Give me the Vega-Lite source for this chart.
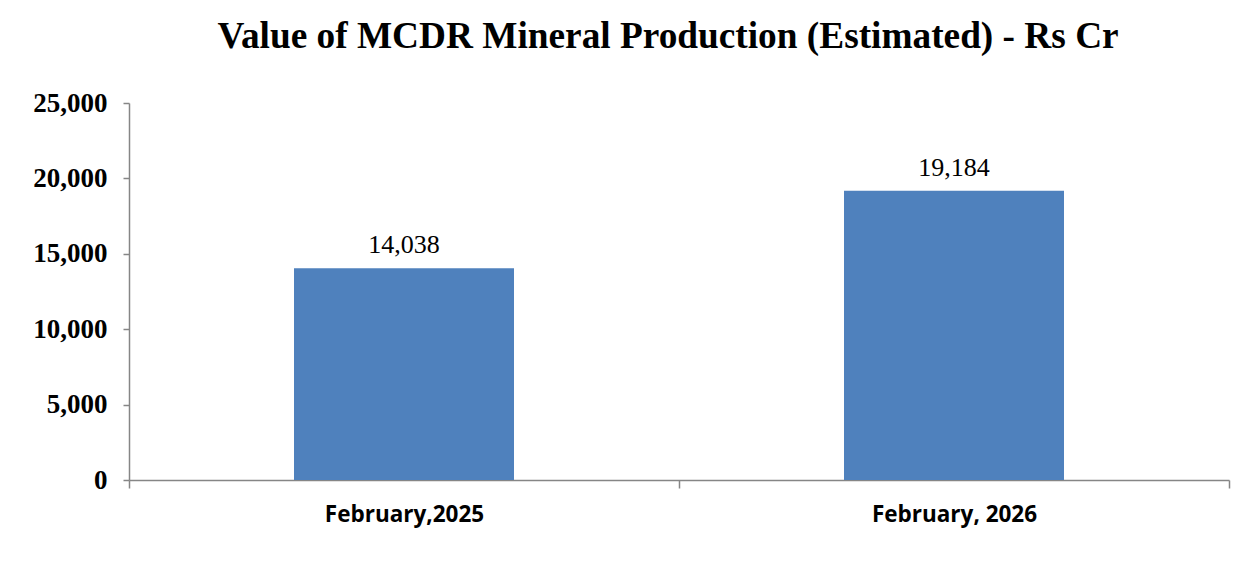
{
  "$schema": "https://vega.github.io/schema/vega-lite/v6.json",
  "width": 1100,
  "height": 377,
  "autosize": "none",
  "padding": {"left": 129, "top": 103, "right": 19, "bottom": 95},
  "background": "white",
  "title": {
    "text": "Value of MCDR Mineral Production (Estimated) - Rs Cr",
    "font": "Liberation Serif",
    "fontSize": 37.3,
    "fontWeight": "bold",
    "color": "black",
    "anchor": "middle",
    "dx": -11,
    "offset": 33
  },
  "data": {
    "values": [
      {"period": "February,2025", "value": 14038},
      {"period": "February, 2026", "value": 19184}
    ]
  },
  "encoding": {
    "x": {
      "field": "period",
      "type": "nominal",
      "sort": null,
      "title": null,
      "scale": {"paddingInner": 0, "paddingOuter": 0},
      "axis": {
        "labelAngle": 0,
        "labelFont": "Open Sans",
        "labelFontSize": 22.5,
        "labelFontWeight": "bold",
        "labelColor": "black",
        "labelPadding": 15,
        "domainColor": "#868686",
        "tickColor": "#868686",
        "tickSize": 8,
        "tickBand": "extent",
        "domainWidth": 1.5,
        "tickWidth": 1.5
      }
    },
    "y": {
      "field": "value",
      "type": "quantitative",
      "title": null,
      "scale": {"domain": [0, 25000]},
      "axis": {
        "values": [0, 5000, 10000, 15000, 20000, 25000],
        "format": ",.0f",
        "grid": false,
        "labelFont": "Liberation Serif",
        "labelFontSize": 27,
        "labelFontWeight": "bold",
        "labelColor": "black",
        "labelPadding": 16,
        "domainColor": "#868686",
        "tickColor": "#868686",
        "tickSize": 6,
        "domainWidth": 1.5,
        "tickWidth": 1.5
      }
    }
  },
  "layer": [
    {"mark": {"type": "bar", "color": "#4F81BD", "width": {"band": 0.4}}},
    {
      "mark": {"type": "text", "baseline": "alphabetic", "dy": -15, "font": "Liberation Serif", "fontSize": 26, "color": "black"},
      "encoding": {"text": {"field": "value", "type": "quantitative", "format": ",.0f"}}
    }
  ],
  "config": {"view": {"stroke": null}}
}
